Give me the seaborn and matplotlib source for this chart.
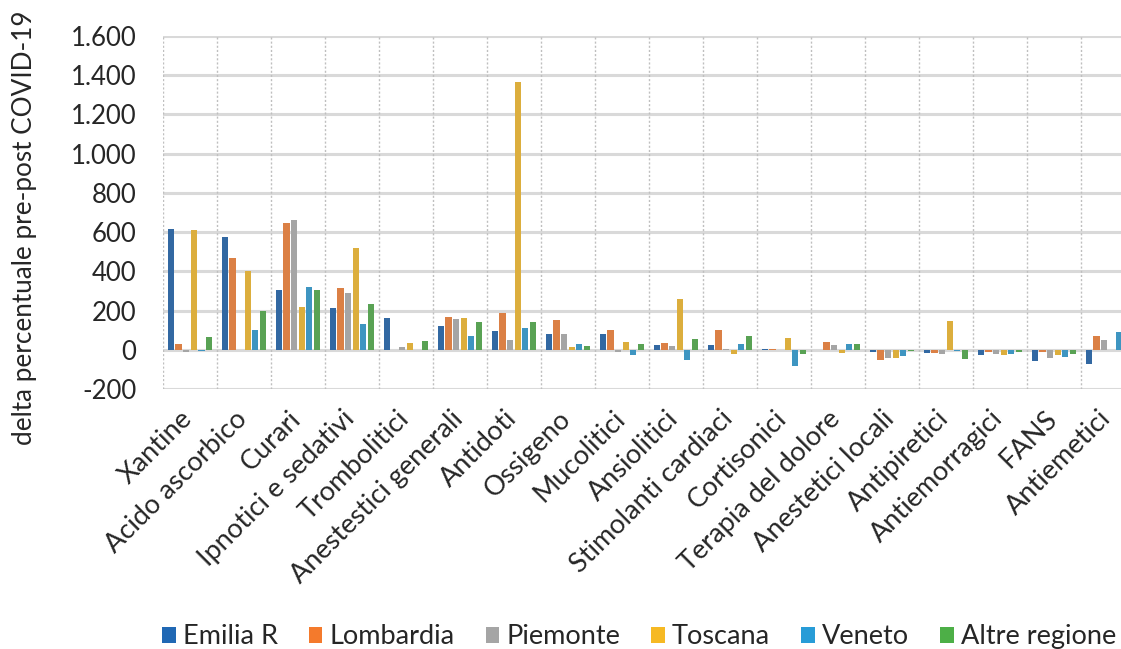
import numpy as np
import pandas as pd
import matplotlib
matplotlib.use('Agg')
import matplotlib.pyplot as plt
import matplotlib.transforms as mtransforms
import seaborn as sns
from matplotlib.ticker import FuncFormatter
from matplotlib.patches import Patch


# ── data ───────────────────────────────────────────────────────────────────────

CATEGORIES = [
    'Xantine', 'Acido ascorbico', 'Curari', 'Ipnotici e sedativi',
    'Trombolitici', 'Anestestici generali', 'Antidoti', 'Ossigeno',
    'Mucolitici', 'Ansiolitici', 'Stimolanti cardiaci', 'Cortisonici',
    'Terapia del dolore', 'Anestetici locali', 'Antipiretici',
    'Antiemorragici', 'FANS', 'Antiemetici',
]

REGIONS = ['Emilia R', 'Lombardia', 'Piemonte', 'Toscana', 'Veneto', 'Altre regione']

emilia    = [617, 578, 308, 216, 165, 124,   95,  84,  80,  26,  26,   5,   0,  -8, -13, -25, -58, -73]
lombardia = [ 32, 471, 646, 318,   0, 168,  187, 155, 100,  36, 100,   6,  43, -53, -13, -12, -10,  71]
piemonte  = [-10,   0, 663, 293,  14, 157,   50,  84,  -8,  20,   5,   0,  24, -41, -20, -22, -41,  53]
toscana   = [613, 403, 218, 522,  38, 162, 1365,  14,  41, 262, -18,  63, -15, -41, 146, -25, -25,   0]
veneto    = [ -3, 100, 323, 131,   0,  70,  114,  33, -27, -52,  33, -80,  29, -31,  -5, -20, -37,  94]
altre     = [ 66, 197, 306, 233,  48, 141,  145,  19,  33,  58,  73, -20,  29,  -3, -46, -10, -18,   0]

COLORS = ['#2068B4', '#F47A2C', '#A5A5A5', '#F6B923', '#289CD7', '#4DAF47']

Y_TICKS = [-200, 0, 200, 400, 600, 800, 1000, 1200, 1400, 1600]


# ── build table ────────────────────────────────────────────────────────────────

series = [emilia, lombardia, piemonte, toscana, veneto, altre]
rows = []
for region, values in zip(REGIONS, series):
    for cat, v in zip(CATEGORIES, values):
        rows.append({'categoria': cat, 'regione': region, 'delta': v})
df = pd.DataFrame(rows)


# ── plot ───────────────────────────────────────────────────────────────────────

sns.set_style('white')
plt.rcParams['font.family'] = ['Lato', 'DejaVu Sans']

fig = plt.figure(figsize=(11.21, 6.49), dpi=100)
ax = fig.add_axes([0.1454, 0.4002, 0.867, 0.5444])

sns.barplot(
    data=df, x='categoria', y='delta', hue='regione',
    order=CATEGORIES, hue_order=REGIONS, palette=COLORS,
    width=0.84, gap=0.16, linewidth=0, ax=ax, legend=False,
)

ax.set_ylim(-200, 1600)
ax.set_xlim(-0.5, len(CATEGORIES) - 0.5)
ax.set_yticks(Y_TICKS)
ax.yaxis.set_major_formatter(
    FuncFormatter(lambda v, p: f'{int(v):,}'.replace(',', '.'))
)
ax.tick_params(axis='y', labelsize=18.5, length=0, pad=19)
ax.tick_params(axis='x', length=0, pad=12)

# horizontal gridlines
for yv in Y_TICKS:
    ax.axhline(yv, color='#D9D9D9', lw=2.2, zorder=0)
# dotted category separators
for xv in np.arange(-0.5, len(CATEGORIES), 1):
    ax.axvline(xv, color='#BFBFBF', lw=1.0, ls=(0, (1.5, 1.5)), zorder=0)

for s in ax.spines.values():
    s.set_visible(False)

ax.set_xticks(range(len(CATEGORIES)))
ax.set_xticklabels(CATEGORIES, rotation=45, ha='right', va='top',
                   rotation_mode='anchor', fontsize=19.5)
shift = mtransforms.ScaledTranslation(-10 / 100, 0, fig.dpi_scale_trans)
for lab in ax.get_xticklabels():
    lab.set_transform(lab.get_transform() + shift)

ax.set_xlabel('')
ax.set_ylabel('delta percentuale pre-post COVID-19', fontsize=18.8)
ax.yaxis.set_label_coords(-0.130, 0.458)

handles = [Patch(facecolor=c, edgecolor='none') for c in COLORS]
fig.legend(handles, REGIONS, loc='center', ncol=6, frameon=False,
           bbox_to_anchor=(0.570, 0.0185), fontsize=19.5,
           handlelength=0.5, handleheight=0.5, handletextpad=0.26,
           columnspacing=1.15, borderpad=0)

fig.savefig('out.png', dpi=100)
